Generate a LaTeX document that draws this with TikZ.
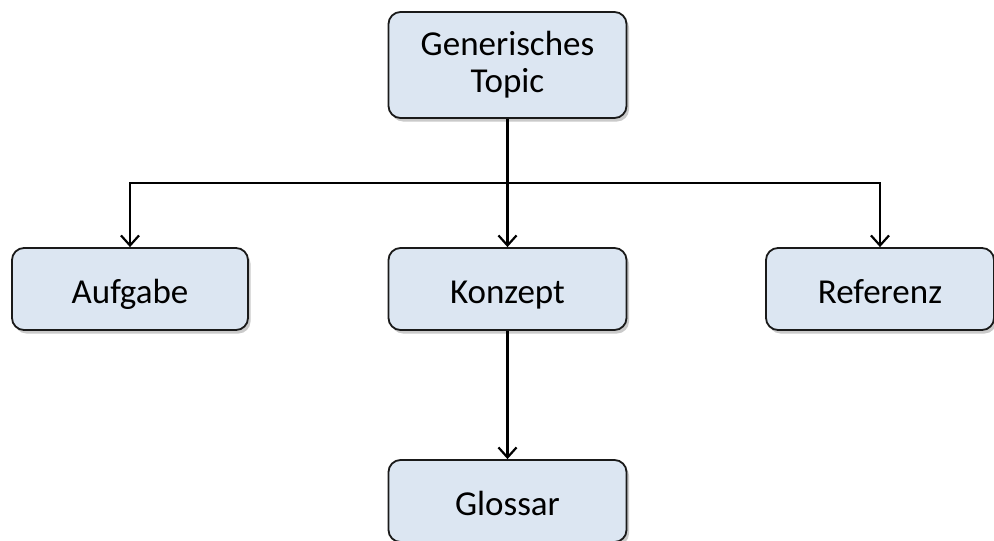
\documentclass[tikz,border=0pt]{standalone}
\usepackage{fontspec}
\setmainfont{Carlito}
\usetikzlibrary{shadows,arrows.meta}
\definecolor{boxfill}{HTML}{DCE6F2}
\definecolor{boxline}{HTML}{1A1A1A}
\begin{document}
\begin{tikzpicture}[x=1pt,y=-1pt,
  topicbox/.style={draw=boxline, line width=1.8pt, fill=boxfill, rounded corners=12pt,
    minimum width=238pt, minimum height=82pt, align=center, inner sep=0pt,
    font=\fontsize{35}{37}\selectfont,
    drop shadow={shadow xshift=2.5pt, shadow yshift=-3.5pt, opacity=0.35, fill=black!60}},
  oneline/.style={topicbox, text height=28pt, text depth=0pt},
  link/.style={line width=2.5pt, draw=black},
  tip/.style={-{Straight Barb[length=10pt,width=18pt,line width=2.2pt]}}]
\useasboundingbox (0,0) rectangle (994,541);
\node[topicbox, minimum height=106pt] (top) at (507.5,65) {Generisches\\Topic};
\node[oneline, minimum width=236pt] (auf) at (130,289) {Aufgabe};
\node[oneline] (kon) at (507.5,289) {Konzept};
\node[oneline, minimum width=228pt] (ref) at (880,289) {Referenz};
\node[oneline] (glo) at (507.5,501) {Glossar};
\coordinate (bus) at (507.5,183);
\draw[link] (top.south) -- (bus);
\draw[link,tip] (bus) -| (auf.north);
\draw[link,tip] (bus) -| (ref.north);
\draw[link,tip] (bus) -- (kon.north);
\draw[link,tip] (kon.south) -- (glo.north);
\end{tikzpicture}
\end{document}
